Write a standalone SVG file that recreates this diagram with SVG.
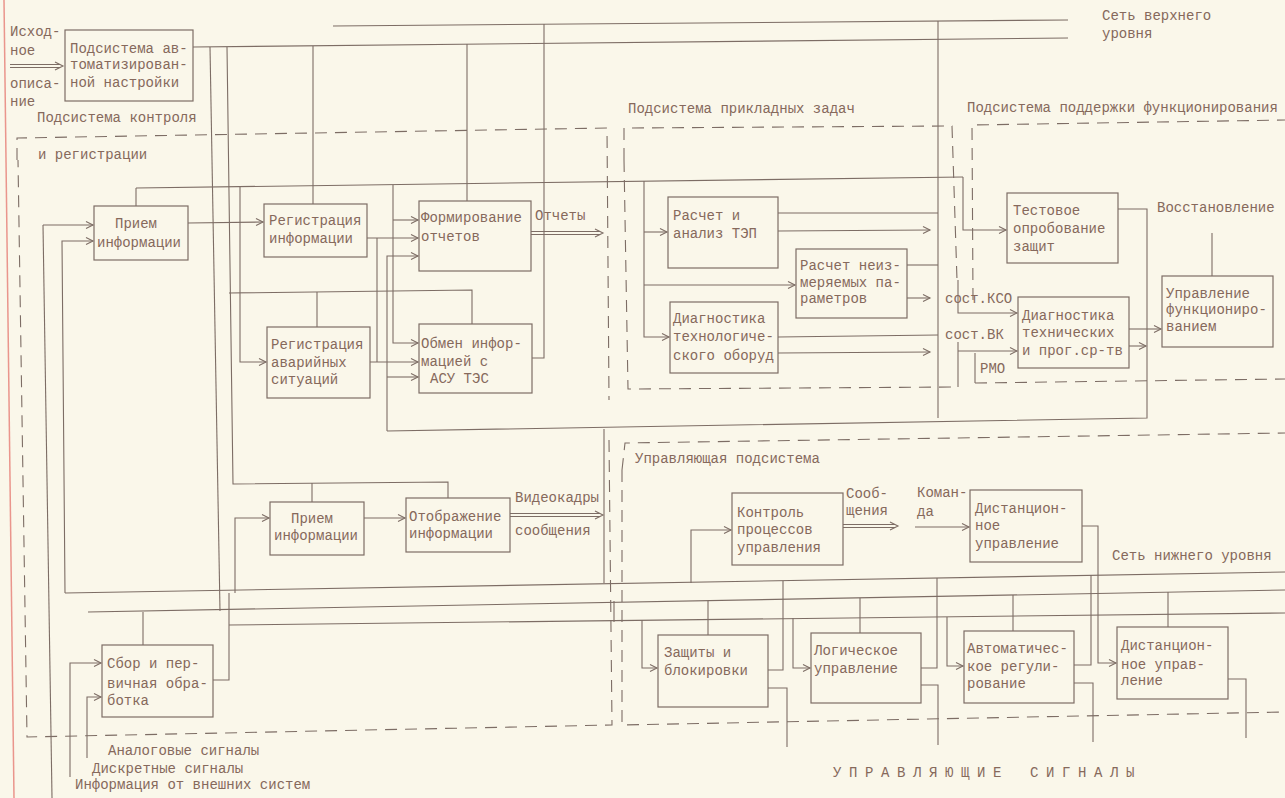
<svg xmlns="http://www.w3.org/2000/svg" width="1285" height="798" viewBox="0 0 1285 798">
<defs>
<style>
.ln{stroke:#7d6d65;stroke-width:1.1;fill:none}
.ds{stroke:#7d6d65;stroke-width:1.1;fill:none;stroke-dasharray:12 8}
.bx{stroke:#7d6d65;stroke-width:1.2;fill:none}
.t{font-family:"Liberation Mono","DejaVu Sans Mono",monospace;font-size:14px;fill:#86695c}
</style>
<marker id="ar" markerWidth="10" markerHeight="10" refX="8" refY="4" orient="auto" markerUnits="userSpaceOnUse"><path d="M1,0.5 L8,4 L1,7.5" fill="none" stroke="#7d6d65" stroke-width="1.1"/></marker>
</defs>
<rect width="1285" height="798" fill="#faf7ea"/>
<line x1="4" y1="0" x2="14" y2="798" stroke="#ea958c" stroke-width="1.5"/>

<g id="boundaries">
<path class="ds" d="M17,160 L17,138 L607,128 L609,400"/>
<path class="ds" d="M609,440 L612,725 L27,737 L18,160"/>
<path class="ds" d="M624,160 L624,128 L952,126 L957,280"/>
<path class="ds" d="M624,160 L628,389 L958,387"/>
<path class="ds" d="M973,300 L972,125 L1285,120"/>
<path class="ds" d="M975,383 L1285,379"/>
<path class="ds" d="M622,470 L625,443 L1285,433"/>
<path class="ds" d="M622,470 L622,725 L1285,712"/>
</g>

<g id="connectors">
<line class="ln" x1="333" y1="26" x2="1068" y2="20"/>
<line class="ln" x1="193" y1="47" x2="1068" y2="38"/>
<line class="ln" x1="136" y1="188" x2="963" y2="177"/>
<line class="ln" x1="65" y1="593" x2="1285" y2="572"/>
<line class="ln" x1="88" y1="612" x2="1285" y2="590"/>
<line class="ln" x1="229" y1="625" x2="1285" y2="613"/>

<path class="ln" d="M10,64.5 L60,64.5 M10,67.5 L60,67.5"/>
<path class="ln" d="M55,62 L63,66 L55,70"/>

<path class="ln" d="M210,47 L220,611"/>
<path class="ln" d="M227,47 L233,484 L448,482 L448,498"/>
<path class="ln" d="M312,483 L312,502"/>
<path class="ln" d="M313,46 L313,204"/>
<path class="ln" d="M467,44 L467,201"/>
<path class="ln" d="M544,24 L544,358 L532,358"/>
<path class="ln" d="M938,21 L938,418"/>
<path class="ln" d="M136,188 L136,206"/>

<path class="ln" d="M43,225 L52,798"/>
<path class="ln" d="M43,225 L93,225" marker-end="url(#ar)"/>
<path class="ln" d="M65,593 L62,241 L93,241" marker-end="url(#ar)"/>
<path class="ln" d="M188,223 L263,222" marker-end="url(#ar)"/>

<path class="ln" d="M240,187 L240,362 L266,362" marker-end="url(#ar)"/>
<path class="ln" d="M229,293 L472,290 L472,324"/>
<path class="ln" d="M317,292 L317,327"/>
<path class="ln" d="M367,238 L418,238" marker-end="url(#ar)"/>
<path class="ln" d="M377,238 L377,362"/>
<path class="ln" d="M370,362 L418,362" marker-end="url(#ar)"/>
<path class="ln" d="M393,185 L393,343 L418,343" marker-end="url(#ar)"/>
<path class="ln" d="M393,220 L418,220" marker-end="url(#ar)"/>
<path class="ln" d="M387,431 L387,256 L418,256" marker-end="url(#ar)"/>
<path class="ln" d="M387,377 L418,377" marker-end="url(#ar)"/>

<path class="ln" d="M531,231.5 L600,231.5 M531,234.5 L600,234.5"/>
<path class="ln" d="M595,229 L603,233 L595,237"/>

<path class="ln" d="M644,181 L644,337 L669,337" marker-end="url(#ar)"/>
<path class="ln" d="M644,232 L667,232" marker-end="url(#ar)"/>
<path class="ln" d="M644,285 L795,285" marker-end="url(#ar)"/>
<path class="ln" d="M778,213 L938,213"/>
<path class="ln" d="M778,231 L930,230" marker-end="url(#ar)"/>
<path class="ln" d="M907,265 L938,265"/>
<path class="ln" d="M907,298 L930,298" marker-end="url(#ar)"/>
<path class="ln" d="M778,337 L938,335"/>
<path class="ln" d="M778,353 L930,352" marker-end="url(#ar)"/>

<path class="ln" d="M1118,209 L1147,209 L1147,418 L387,431"/>
<path class="ln" d="M963,177 L963,230 L1006,230" marker-end="url(#ar)"/>
<path class="ln" d="M958,280 L958,313 L1017,313" marker-end="url(#ar)"/>
<path class="ln" d="M958,342 L958,387"/>
<path class="ln" d="M958,351 L1017,351" marker-end="url(#ar)"/>
<path class="ln" d="M975,353 L975,383"/>
<path class="ln" d="M1129,329 L1161,329" marker-end="url(#ar)"/>
<path class="ln" d="M1129,346 L1146,346" marker-end="url(#ar)"/>
<path class="ln" d="M1212,233 L1212,276"/>

<path class="ln" d="M235,593 L235,518 L269,518" marker-end="url(#ar)"/>
<path class="ln" d="M364,518 L405,518" marker-end="url(#ar)"/>
<path class="ln" d="M510,513.5 L600,513.5 M510,516.5 L600,516.5"/>
<path class="ln" d="M595,511 L603,515 L595,519"/>

<path class="ln" d="M604,429 L604,583"/>
<path class="ln" d="M614,601 L614,622"/>
<path class="ln" d="M691,583 L691,530 L731,530" marker-end="url(#ar)"/>
<path class="ln" d="M843,524.5 L895,524.5 M843,527.5 L895,527.5"/>
<path class="ln" d="M890,522 L898,526 L890,530"/>
<path class="ln" d="M915,527 L969,527" marker-end="url(#ar)"/>
<path class="ln" d="M1082,526 L1098,526 L1098,663 L1116,663" marker-end="url(#ar)"/>

<path class="ln" d="M143,612 L143,645"/>
<path class="ln" d="M70,777 L70,663 L101,663" marker-end="url(#ar)"/>
<path class="ln" d="M87,758 L87,697 L101,697" marker-end="url(#ar)"/>
<path class="ln" d="M213,680 L229,680 L229,593"/>

<path class="ln" d="M642,620 L642,668 L657,668" marker-end="url(#ar)"/>
<path class="ln" d="M708,601 L708,635"/>
<path class="ln" d="M768,670 L783,670 L783,581"/>
<path class="ln" d="M768,688 L787,688 L787,747"/>

<path class="ln" d="M793,618 L793,668 L810,668" marker-end="url(#ar)"/>
<path class="ln" d="M860,598 L860,633"/>
<path class="ln" d="M921,668 L937,668 L937,578"/>
<path class="ln" d="M921,685 L938,685 L938,745"/>

<path class="ln" d="M947,617 L947,666 L963,666" marker-end="url(#ar)"/>
<path class="ln" d="M1013,595 L1013,631"/>
<path class="ln" d="M1074,665 L1091,665 L1091,575"/>
<path class="ln" d="M1074,683 L1093,683 L1093,742"/>

<path class="ln" d="M1168,592 L1168,627"/>
<path class="ln" d="M1228,679 L1246,679 L1246,738"/>
</g>

<g id="labels" class="t">
<text x="10" y="36">Исход-</text>
<text x="10" y="55">ное</text>
<text x="10" y="88">описа-</text>
<text x="10" y="106">ние</text>
<text x="1102" y="20">Сеть верхнего</text>
<text x="1102" y="38">уровня</text>
<text x="37" y="122">Подсистема контроля</text>
<text x="38" y="159">и регистрации</text>
<text x="628" y="113">Подсистема прикладных задач</text>
<text x="967" y="112">Подсистема поддержки функционирования</text>
<text x="535" y="220">Отчеты</text>
<text x="945" y="303">сост.КСО</text>
<text x="945" y="339">сост.ВК</text>
<text x="980" y="373">РМО</text>
<text x="1157" y="212">Восстановление</text>
<text x="515" y="502">Видеокадры</text>
<text x="515" y="535">сообщения</text>
<text x="635" y="463">Управляющая подсистема</text>
<text x="846" y="498">Сооб-</text>
<text x="846" y="515">щения</text>
<text x="917" y="497">Коман-</text>
<text x="917" y="516">да</text>
<text x="1112" y="560">Сеть нижнего уровня</text>
<text x="108" y="755">Аналоговые сигналы</text>
<text x="92" y="773">Дискретные сигналы</text>
<text x="75" y="789">Информация от внешних систем</text>
<text y="777" letter-spacing="7.6"><tspan x="833">УПРАВЛЯЮЩИЕ</tspan> <tspan x="1030">СИГНАЛЫ</tspan></text>
</g>

<g id="n-auto"><rect class="bx" x="65" y="30" width="128" height="71"/>
<text class="t"><tspan x="70" y="53">Подсистема ав-</tspan><tspan x="70" y="69">томатизирован-</tspan><tspan x="70" y="87">ной настройки</tspan></text></g>

<g id="n-priem1"><rect class="bx" x="94" y="206" width="94" height="54"/>
<text class="t"><tspan x="115" y="228">Прием</tspan><tspan x="97" y="247">информации</tspan></text></g>

<g id="n-reginf"><rect class="bx" x="264" y="204" width="103" height="53"/>
<text class="t"><tspan x="269" y="225">Регистрация</tspan><tspan x="269" y="243">информации</tspan></text></g>

<g id="n-regav"><rect class="bx" x="267" y="327" width="103" height="71"/>
<text class="t"><tspan x="271" y="349">Регистрация</tspan><tspan x="271" y="367">аварийных</tspan><tspan x="271" y="384">ситуаций</tspan></text></g>

<g id="n-form"><rect class="bx" x="419" y="201" width="112" height="70"/>
<text class="t"><tspan x="421" y="222">Формирование</tspan><tspan x="421" y="241">отчетов</tspan></text></g>

<g id="n-obmen"><rect class="bx" x="419" y="324" width="113" height="69"/>
<text class="t"><tspan x="421" y="348">Обмен инфор-</tspan><tspan x="421" y="366">мацией с</tspan><tspan x="430" y="383">АСУ ТЭС</tspan></text></g>

<g id="n-tep"><rect class="bx" x="668" y="197" width="110" height="71"/>
<text class="t"><tspan x="673" y="220">Расчет и</tspan><tspan x="673" y="238">анализ ТЭП</tspan></text></g>

<g id="n-neizm"><rect class="bx" x="796" y="249" width="111" height="69"/>
<text class="t"><tspan x="800" y="270">Расчет неиз-</tspan><tspan x="800" y="287">меряемых па-</tspan><tspan x="800" y="303">раметров</tspan></text></g>

<g id="n-diagtech"><rect class="bx" x="670" y="302" width="108" height="71"/>
<text class="t"><tspan x="673" y="323">Диагностика</tspan><tspan x="673" y="341">технологиче-</tspan><tspan x="673" y="360">ского оборуд</tspan></text></g>

<g id="n-test"><rect class="bx" x="1007" y="193" width="111" height="70"/>
<text class="t"><tspan x="1013" y="215">Тестовое</tspan><tspan x="1013" y="233">опробование</tspan><tspan x="1013" y="251">защит</tspan></text></g>

<g id="n-diaghw"><rect class="bx" x="1018" y="297" width="111" height="71"/>
<text class="t"><tspan x="1022" y="320">Диагностика</tspan><tspan x="1022" y="337">технических</tspan><tspan x="1022" y="355">и прог.ср-тв</tspan></text></g>

<g id="n-upr"><rect class="bx" x="1162" y="276" width="111" height="71"/>
<text class="t"><tspan x="1166" y="298">Управление</tspan><tspan x="1166" y="314">функциониро-</tspan><tspan x="1166" y="331">ванием</tspan></text></g>

<g id="n-priem2"><rect class="bx" x="270" y="502" width="94" height="53"/>
<text class="t"><tspan x="291" y="523">Прием</tspan><tspan x="274" y="540">информации</tspan></text></g>

<g id="n-otobr"><rect class="bx" x="406" y="498" width="104" height="54"/>
<text class="t"><tspan x="409" y="521">Отображение</tspan><tspan x="409" y="538">информации</tspan></text></g>

<g id="n-kontrol"><rect class="bx" x="732" y="493" width="111" height="72"/>
<text class="t"><tspan x="737" y="517">Контроль</tspan><tspan x="737" y="534">процессов</tspan><tspan x="737" y="552">управления</tspan></text></g>

<g id="n-dist1"><rect class="bx" x="970" y="490" width="112" height="72"/>
<text class="t"><tspan x="975" y="513">Дистанцион-</tspan><tspan x="975" y="530">ное</tspan><tspan x="975" y="548">управление</tspan></text></g>

<g id="n-sbor"><rect class="bx" x="102" y="645" width="111" height="72"/>
<text class="t"><tspan x="107" y="668">Сбор и пер-</tspan><tspan x="107" y="688">вичная обра-</tspan><tspan x="107" y="705">ботка</tspan></text></g>

<g id="n-zash"><rect class="bx" x="658" y="635" width="110" height="72"/>
<text class="t"><tspan x="664" y="657">Защиты и</tspan><tspan x="664" y="675">блокировки</tspan></text></g>

<g id="n-logic"><rect class="bx" x="811" y="633" width="110" height="70"/>
<text class="t"><tspan x="814" y="655">Логическое</tspan><tspan x="814" y="673">управление</tspan></text></g>

<g id="n-avt"><rect class="bx" x="964" y="631" width="110" height="72"/>
<text class="t"><tspan x="967" y="653">Автоматичес-</tspan><tspan x="967" y="671">кое регули-</tspan><tspan x="967" y="688">рование</tspan></text></g>

<g id="n-dist2"><rect class="bx" x="1117" y="627" width="111" height="72"/>
<text class="t"><tspan x="1121" y="650">Дистанцион-</tspan><tspan x="1121" y="669">ное управ-</tspan><tspan x="1121" y="685">ление</tspan></text></g>
</svg>
